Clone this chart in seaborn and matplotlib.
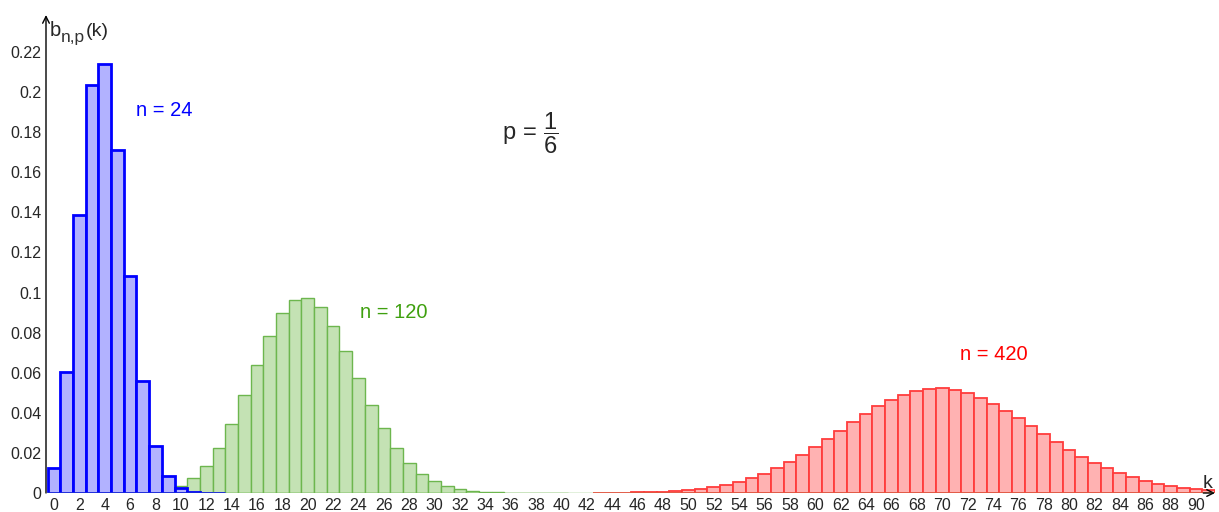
import numpy as np
import matplotlib
matplotlib.use("Agg")
import matplotlib.pyplot as plt
import seaborn as sns

# Binomial probabilities b_{n,p}(k), p = 1/6
k24_start = 0
p24 = [0.0126, 0.0604, 0.1389, 0.2037, 0.2139, 0.1711, 0.1084, 0.0557,
       0.0237, 0.0084, 0.0025, 0.0006, 0.0001, 0.00003]

k120_start = 4
p120 = [0.000004, 0.000019, 0.000074, 0.00024, 0.00068, 0.00169, 0.00374,
        0.00749, 0.01360, 0.02260, 0.03455, 0.04882, 0.06408, 0.07840,
        0.08973, 0.09634, 0.09730, 0.09267, 0.08340, 0.07107, 0.05745,
        0.04412, 0.03224, 0.02245, 0.01491, 0.00946, 0.00574, 0.00333,
        0.00185, 0.00099, 0.00051, 0.00025, 0.00012, 0.00005, 0.00002,
        0.00001, 0.000004]

k420_start = 43
p420 = [0.000055, 0.000094, 0.000157, 0.000256, 0.000408, 0.000634,
        0.000963, 0.001429, 0.002074, 0.002943, 0.004087, 0.005556,
        0.007394, 0.009639, 0.012311, 0.015410, 0.018910, 0.022755,
        0.026859, 0.031104, 0.035350, 0.039437, 0.043199, 0.046472,
        0.049108, 0.050986, 0.052020, 0.052169, 0.051434, 0.049862,
        0.047540, 0.044585, 0.041137, 0.037348, 0.033371, 0.029349,
        0.025411, 0.021663, 0.018186, 0.015037, 0.012247, 0.009827,
        0.007769, 0.006053, 0.004647, 0.003517, 0.002624, 0.001930,
        0.001400, 0.001001]

y_ticks = [0, 0.02, 0.04, 0.06, 0.08, 0.1, 0.12, 0.14, 0.16, 0.18, 0.2, 0.22]
x_ticks = list(range(0, 91, 2))

sns.set_style("white")
plt.rcParams['font.family'] = ['Liberation Sans', 'DejaVu Sans']
plt.rcParams['mathtext.fontset'] = 'custom'
plt.rcParams['mathtext.rm'] = 'Liberation Sans'
plt.rcParams['mathtext.it'] = 'Liberation Sans'

fig = plt.figure(figsize=(12.19, 5.12), dpi=100)
ax = fig.add_axes([46 / 1219, 19 / 512, 1169 / 1219, 478 / 512])

series = [
    (k420_start, p420, "#FFB2B2", "#FF3C3C", 1.3),
    (k120_start, p120, "#C4E2B4", "#6DB64E", 1.0),
    (k24_start, p24, "#B2B2FF", "#0000FF", 2.0),
]
for start, vals, fc, ec, lw in series:
    ks = np.arange(start, start + len(vals))
    sns.histplot(x=ks, weights=vals, discrete=True, ax=ax, stat="count",
                 facecolor=fc, edgecolor=ec, linewidth=lw, alpha=1)

ax.set_xlim(-0.63, 91.5)
ax.set_ylim(0, 0.2385)
ax.set_xlabel("")
ax.set_ylabel("")
ax.set_xticks(x_ticks)
ax.set_yticks(y_ticks)
ax.set_yticklabels(["%g" % v for v in y_ticks])
ax.tick_params(axis="both", labelsize=11.5, length=2.5, color="#666666",
               direction="out", pad=1)

for s in ["top", "right", "left", "bottom"]:
    ax.spines[s].set_visible(False)

# axes with arrow heads, GeoGebra style
ax.axhline(0, color="#6DB64E", lw=1.0, zorder=5)
ax.annotate("", xy=(0, 1.0), xytext=(0, 0), xycoords="axes fraction",
            arrowprops=dict(arrowstyle="->", color="black", lw=1.0,
                            mutation_scale=12, shrinkA=0, shrinkB=0))
ax.annotate("", xy=(1.0, 0), xytext=(0.99, 0), xycoords="axes fraction",
            arrowprops=dict(arrowstyle="->", color="black", lw=1.0,
                            mutation_scale=12, shrinkA=0, shrinkB=0))

# y label b_{n,p}(k)
fig.text(50 / 1219, 1 - 36 / 512, "b", fontsize=14.5, ha="left", va="baseline")
fig.text(61 / 1219, 1 - 42 / 512, "n,p", fontsize=12.5, ha="left",
         va="baseline", color="#333333")
fig.text(86 / 1219, 1 - 36 / 512, "(k)", fontsize=14, ha="left",
         va="baseline")
ax.text(90.9, 0.0045, "k", fontsize=14, ha="center", va="center")

ax.text(6.46, 0.191, "n = 24", color="#0000FF", fontsize=14.5,
        ha="left", va="center")
ax.text(24.1, 0.0903, "n = 120", color="#3FA00F", fontsize=14.5,
        ha="left", va="center")
ax.text(71.4, 0.0693, "n = 420", color="#FF0000", fontsize=14.5,
        ha="left", va="center")
ax.text(35.3, 0.1795, r"$\mathrm{p}\,=\,\dfrac{1}{6}$", fontsize=17,
        ha="left", va="center")

fig.savefig("out.png", dpi=100)
